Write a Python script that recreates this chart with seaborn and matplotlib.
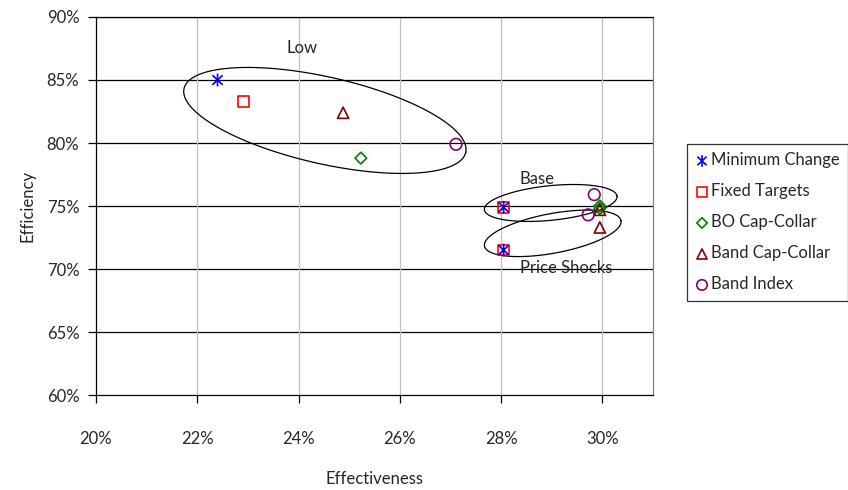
import numpy as np
import pandas as pd
import matplotlib
matplotlib.use("Agg")
import matplotlib.pyplot as plt
from matplotlib.path import Path
from matplotlib.ticker import FuncFormatter
import seaborn as sns

# Hedging strategies and their (effectiveness, efficiency) results, in percent
strategies = ["Minimum Change", "Fixed Targets", "BO Cap-Collar", "Band Cap-Collar", "Band Index"]
scenarios = ["Low", "Base", "Price Shocks"]

effectiveness_low = [22.40, 22.91, 25.23, 24.88, 27.11]
efficiency_low = [85.0, 83.3, 78.8, 82.4, 79.9]

effectiveness_base = [28.05, 28.05, 29.95, 29.95, 29.84]
efficiency_base = [74.9, 74.9, 75.0, 74.7, 75.9]

effectiveness_shock = [28.05, 28.05, 29.95, 29.95, 29.72]
efficiency_shock = [71.5, 71.5, 74.8, 73.3, 74.3]

x_ticks = [20, 22, 24, 26, 28, 30]
y_ticks = [60, 65, 70, 75, 80, 85, 90]

rows = []
for scen, xs, ys in zip(scenarios,
                        [effectiveness_low, effectiveness_base, effectiveness_shock],
                        [efficiency_low, efficiency_base, efficiency_shock]):
    for s, x, y in zip(strategies, xs, ys):
        rows.append({"Strategy": s, "Scenario": scen, "Effectiveness": x, "Efficiency": y})
df = pd.DataFrame(rows)

# Six-armed asterisk: vertical bar plus an X
star = Path([(0, -1), (0, 1), (-0.8, -0.75), (0.8, 0.75), (-0.8, 0.75), (0.8, -0.75)],
            [Path.MOVETO, Path.LINETO, Path.MOVETO, Path.LINETO, Path.MOVETO, Path.LINETO])

styles = {
    "Minimum Change": dict(marker=star, color="#0000ff", s=85, z=5),
    "Fixed Targets": dict(marker="s", color="#ff0000", s=60, z=4),
    "BO Cap-Collar": dict(marker="D", color="#008000", s=35, z=3),
    "Band Cap-Collar": dict(marker="^", color="#800000", s=65, z=3),
    "Band Index": dict(marker="o", color="#800080", s=70, z=3),
}

FS = 12

sns.set_theme(style="white")
plt.rcParams["font.family"] = ["Lato", "DejaVu Sans"]

fig = plt.figure(figsize=(8.48, 4.90), dpi=100)
ax = fig.add_axes([96 / 848, 1 - 395 / 490, (653 - 96) / 848, (395 - 17) / 490])

# Group outlines drawn as ellipses: centre plus two conjugate semi-diameters
groups = {
    "Low": ((24.52, 81.79), (2.782, -2.532), (-0.187, -3.36)),
    "Base": ((28.98, 75.24), (1.310, 0.536), (0.034, -1.366)),
    "Price Shocks": ((29.02, 72.83), (1.348, 1.010), (0.071, -1.545)),
}
t = np.linspace(0, 2 * np.pi, 400)
for name, (c, u, v) in groups.items():
    ex = c[0] + u[0] * np.cos(t) + v[0] * np.sin(t)
    ey = c[1] + u[1] * np.cos(t) + v[1] * np.sin(t)
    ax.plot(ex, ey, color="black", lw=0.9, zorder=2)

for strat in strategies:
    st = styles[strat]
    sub = df[df["Strategy"] == strat]
    sns.scatterplot(data=sub, x="Effectiveness", y="Efficiency", ax=ax,
                    marker=st["marker"], s=st["s"], color=st["color"],
                    facecolor="none", edgecolor=st["color"], linewidth=1.2,
                    label=strat, zorder=st["z"], legend=False)

ax.text(24.07, 87.55, "Low", fontsize=FS, ha="center", va="center")
ax.text(28.70, 77.15, "Base", fontsize=FS, ha="center", va="center")
ax.text(29.28, 70.05, "Price Shocks", fontsize=FS, ha="center", va="center")

ax.set_xlim(20, 31)
ax.set_ylim(60, 90)
ax.set_xticks(x_ticks)
ax.set_yticks(y_ticks)
pct = FuncFormatter(lambda v, _: f"{v:.0f}%")
ax.xaxis.set_major_formatter(pct)
ax.yaxis.set_major_formatter(pct)

# Horizontal black gridlines, vertical grey gridlines
for yv in y_ticks[1:]:
    ax.axhline(yv, color="black", lw=0.9, zorder=1)
for xv in x_ticks[1:]:
    ax.axvline(xv, color="#c0c0c0", lw=0.9, zorder=1)

for side in ["left", "bottom", "top"]:
    ax.spines[side].set_color("black")
    ax.spines[side].set_linewidth(0.9)
ax.spines["right"].set_color("#808080")
ax.spines["right"].set_linewidth(0.9)

ax.tick_params(axis="y", direction="out", length=6, width=0.9, color="black",
               labelsize=FS, pad=6, left=True)
ax.tick_params(axis="x", direction="out", length=6, width=0.9, color="black",
               labelsize=FS, pad=20, bottom=True)

ax.set_xlabel("Effectiveness", fontsize=FS, labelpad=17)
ax.set_ylabel("Efficiency", fontsize=FS, labelpad=8)

handles, labels = ax.get_legend_handles_labels()
leg = fig.legend(handles, labels, loc="upper left", bbox_to_anchor=(687 / 848, 1 - 144 / 490),
                 frameon=True, fancybox=False, edgecolor="black", fontsize=FS,
                 labelspacing=0.9, handletextpad=0.15, handlelength=0.8,
                 borderpad=0.5, borderaxespad=0, markerscale=0.9)
leg.get_frame().set_linewidth(0.9)

fig.savefig("out.png", dpi=100)
